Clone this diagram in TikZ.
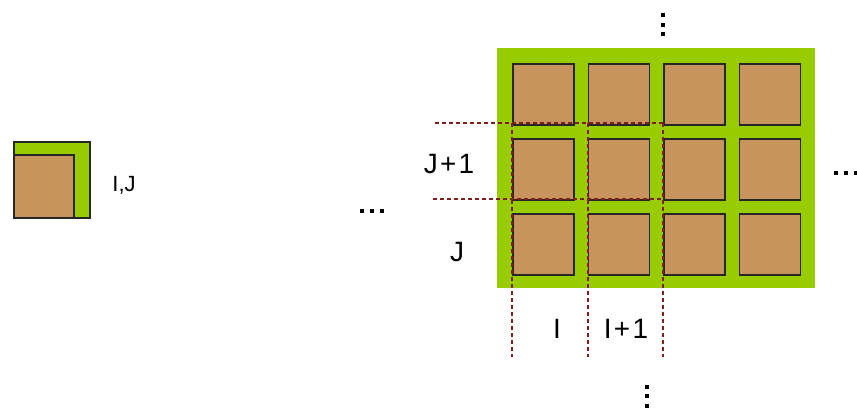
\documentclass[tikz,border=0pt]{standalone}
\usepackage{fontspec}
\setmainfont{Liberation Sans}
\newfontfamily\lblfont[LetterSpace=8]{Liberation Sans}
\definecolor{lgreen}{RGB}{153,204,0}
\definecolor{cellbrown}{RGB}{200,148,94}
\definecolor{dashred}{RGB}{130,30,30}
\begin{document}
\begin{tikzpicture}[x=1pt,y=-1pt,
  cell/.style={draw=black!85, line width=1.6pt, fill=cellbrown, minimum width=61pt, minimum height=61pt, inner sep=0pt, anchor=north west},
  guide/.style={draw=dashred, line width=1.1pt, dash pattern=on 4pt off 3pt},
  lbl/.style={font=\lblfont\fontsize{28}{30}\selectfont, inner sep=0pt},
  dot/.style={fill=black}]
\useasboundingbox[fill=white] (0,0) rectangle (857,414);
% small icon
\node[draw=black!85, line width=1.6pt, fill=lgreen, minimum width=76pt, minimum height=76pt, inner sep=0pt, anchor=north west] (icon) at (13,141) {};
\node[draw=black!85, line width=1.6pt, fill=cellbrown, minimum width=60pt, minimum height=63pt, inner sep=0pt, anchor=south west] (iconin) at (icon.south west) {};
\node[font=\fontsize{22}{24}\selectfont, inner sep=0pt] (ij) at (124,185) {I,J};
% big green block
\node[fill=lgreen, minimum width=318pt, minimum height=240pt, inner sep=0pt, anchor=north west] (block) at (497,48) {};
\foreach \i in {0,1,2,3}{
  \foreach \j in {0,1,2}{
    \node[cell] (c\i\j) at ({512+75.5*\i},{63+75*\j}) {};
  }
}
% guide lines
\coordinate (h1s) at (435,123);
\coordinate (h1e) at (663,123);
\coordinate (h2s) at (433,199);
\coordinate (h2e) at (663,199);
\draw[guide] (h1s) -- (h1e);
\draw[guide] (h2s) -- (h2e);
\foreach \x/\n in {512/a,588/b,663/c}{
  \coordinate (v\n s) at (\x,123);
  \coordinate (v\n e) at (\x,357);
  \draw[guide] (v\n s) -- (v\n e);
}
% labels
\node[lbl] (jp1) at (449,164) {J+1};
\node[lbl] (jj) at (457,252) {J};
\node[lbl] (ii) at (557,329) {I};
\node[lbl] (ip1) at (626,329) {I+1};
% dots
\foreach \x in {362,372,382}{\fill[dot] (\x-2,209) rectangle (\x+2,213);}
\foreach \x in {836,846,856}{\fill[dot] (\x-2,171) rectangle (\x+2,175);}
\foreach \y in {15,25,34}{\fill[dot] (661,\y-2) rectangle (665,\y+2);}
\foreach \y in {387,396,406}{\fill[dot] (645,\y-2) rectangle (649,\y+2);}
\end{tikzpicture}
\end{document}
